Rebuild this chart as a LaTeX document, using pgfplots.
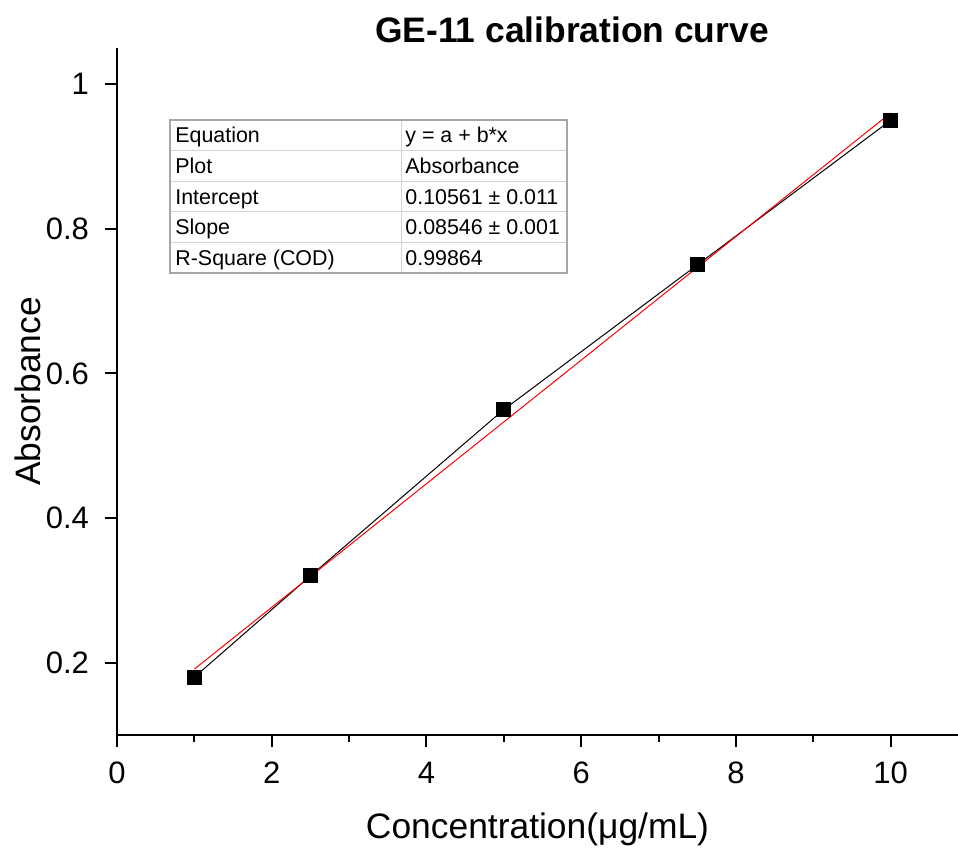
\documentclass[border=0pt]{standalone}
\usepackage{pgfplots}
\pgfplotsset{compat=1.18}
\usepackage{fontspec}
\setmainfont{Liberation Sans}
\begin{document}
\begin{tikzpicture}[x=1pt,y=1pt]
\path[use as bounding box] (-58.5,-57) rectangle (420.5,367.5);
\begin{axis}[
  at={(0pt,0pt)}, anchor=south west,
  width=420.5pt, height=343.5pt, scale only axis,
  xmin=0, xmax=10.87, ymin=0.1, ymax=1.05,
  axis x line*=bottom, axis y line*=left,
  axis line style={line width=1pt, black},
  xtick={0,2,4,6,8,10}, minor xtick={1,3,5,7,9},
  ytick={0.2,0.4,0.6,0.8,1}, yticklabels={0.2,0.4,0.6,0.8,1},
  tick align=outside, major tick length=6pt, minor tick length=3.5pt,
  every tick/.style={black, line width=1pt},
  ticklabel style={font=\fontsize{15.5}{18}\selectfont},
  xticklabel style={yshift=-4pt},
  yticklabel style={xshift=-4.5pt},
  /pgf/number format/assume math mode=true,
  xlabel={Concentration(μg/mL)}, ylabel={Absorbance},
  label style={font=\fontsize{17.7}{20}\selectfont},
  xlabel style={at={(axis description cs:0.5,-0.138)}, anchor=center},
  ylabel style={at={(axis description cs:-0.1058,0.5)}, anchor=center},
  clip=false,
]
\addplot[black, line width=0.5pt, mark=square*, mark size=3.5pt, mark options={solid, fill=black}]
  coordinates {(1,0.18)(2.5,0.32)(5,0.55)(7.5,0.75)(10,0.95)};
\addplot[red, line width=0.5pt, no markers] coordinates {(1,0.19107)(10,0.96021)};
\end{axis}
\node[font=\bfseries\fontsize{17.7}{20}\selectfont] at (227.5,352.5) {GE-11 calibration curve};
% fit table
\draw[gray!35, line width=0.5pt] (26.5,292.2) -- (225,292.2) (26.5,276.9) -- (225,276.9)
  (26.5,261.6) -- (225,261.6) (26.5,246.3) -- (225,246.3) (142,231) -- (142,307.5);
\draw[gray!70, line width=0.6pt] (26.5,231) rectangle (225,307.5);
\begin{scope}[every node/.style={font=\fontsize{10.7}{12}\selectfont, inner sep=0pt, anchor=base west}]
\node at (29,296) {Equation};        \node at (144,296) {y = a + b*x};
\node at (29,280.7) {Plot};          \node at (144,280.7) {Absorbance};
\node at (29,265.4) {Intercept};     \node at (144,265.4) {0.10561 ± 0.011};
\node at (29,250.1) {Slope};         \node at (144,250.1) {0.08546 ± 0.001};
\node at (29,234.8) {R-Square (COD)};\node at (144,234.8) {0.99864};
\end{scope}
\end{tikzpicture}
\end{document}
